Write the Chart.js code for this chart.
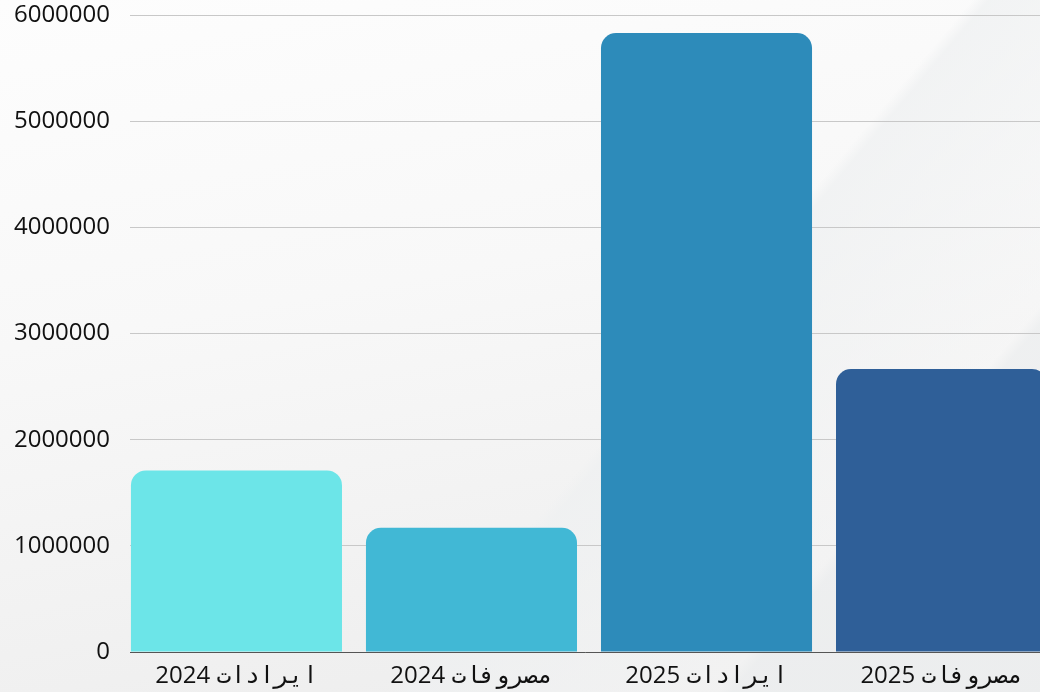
<!DOCTYPE html>
<html>
<head>
<meta charset="utf-8">
<script src="https://cdn.jsdelivr.net/npm/chart.js@4/dist/chart.umd.min.js"></script>
<style>
    html, body {
        margin: 0;
        padding: 0;
        width: 1040px;
        height: 692px;
        overflow: hidden;
        background:
            linear-gradient(130deg, rgba(255,255,255,0) 60%, rgba(238,240,241,0.7) 61%, rgba(248,248,248,0.4) 80%, rgba(236,238,239,0.7) 81%),
            linear-gradient(170deg, #fdfdfd 0%, #f8f8f8 40%, #f1f1f1 75%, #ececec 100%);
    }
    canvas { display: block; }
</style>
</head>
<body>
<canvas id="revChart" width="1040" height="700"></canvas>
<script>
// categories and values
const labels = ['ایرادات 2024', 'مصروفات 2024', 'ایرادات 2025', 'مصروفات 2025'];
const amounts = [1710000, 1170000, 5830000, 2665000];
const barColors = ['#6ce5e8', '#41b8d5', '#2d8bba', '#2f5f98'];
const yTicks = [0, 1000000, 2000000, 3000000, 4000000, 5000000, 6000000];

const ctx = document.getElementById('revChart');

// bars sit on a linear x axis so the first one can start right at the y axis
const points = amounts.map((v, i) => ({ x: i, y: v }));

new Chart(ctx, {
    type: 'bar',
    data: {
        datasets: [{
            data: points,
            backgroundColor: barColors,
            borderRadius: 15,
            barPercentage: 0.898,
            categoryPercentage: 1
        }]
    },
    options: {
        responsive: false,
        animation: false,
        devicePixelRatio: 1,
        layout: { padding: { top: 15, left: 13, right: 0, bottom: 0 } },
        plugins: {
            legend: { display: false },
            tooltip: { enabled: false }
        },
        scales: {
            y: {
                min: 0,
                max: 6000000,
                afterBuildTicks: (axis) => { axis.ticks = yTicks.map(v => ({ value: v })); },
                afterFit: (axis) => {
                    axis.width = 117;
                    axis.paddingTop = 0;
                    axis.paddingBottom = 0;
                },
                border: { display: false },
                grid: { color: '#c8c8c8', drawTicks: false },
                ticks: {
                    padding: 20,
                    color: '#111',
                    callback: (v) => String(v), // plain numbers, no thousands separator
                    font: { family: 'Open Sans', size: 24 }
                }
            },
            x: {
                type: 'linear',
                min: -0.453,
                max: 3.419,
                offset: false,
                afterBuildTicks: (axis) => { axis.ticks = labels.map((l, i) => ({ value: i })); },
                afterFit: (axis) => {
                    axis.paddingLeft = 0;
                    axis.paddingRight = 0;
                },
                border: { display: true, color: '#555' },
                grid: { display: false, drawTicks: false },
                ticks: {
                    padding: 0,
                    color: '#111',
                    autoSkip: false,
                    maxRotation: 0,
                    callback: (v) => labels[v],
                    font: { family: "'Open Sans', 'DejaVu Sans Mono'", size: 24, lineHeight: 2 }
                }
            }
        }
    }
});
</script>
</body>
</html>
